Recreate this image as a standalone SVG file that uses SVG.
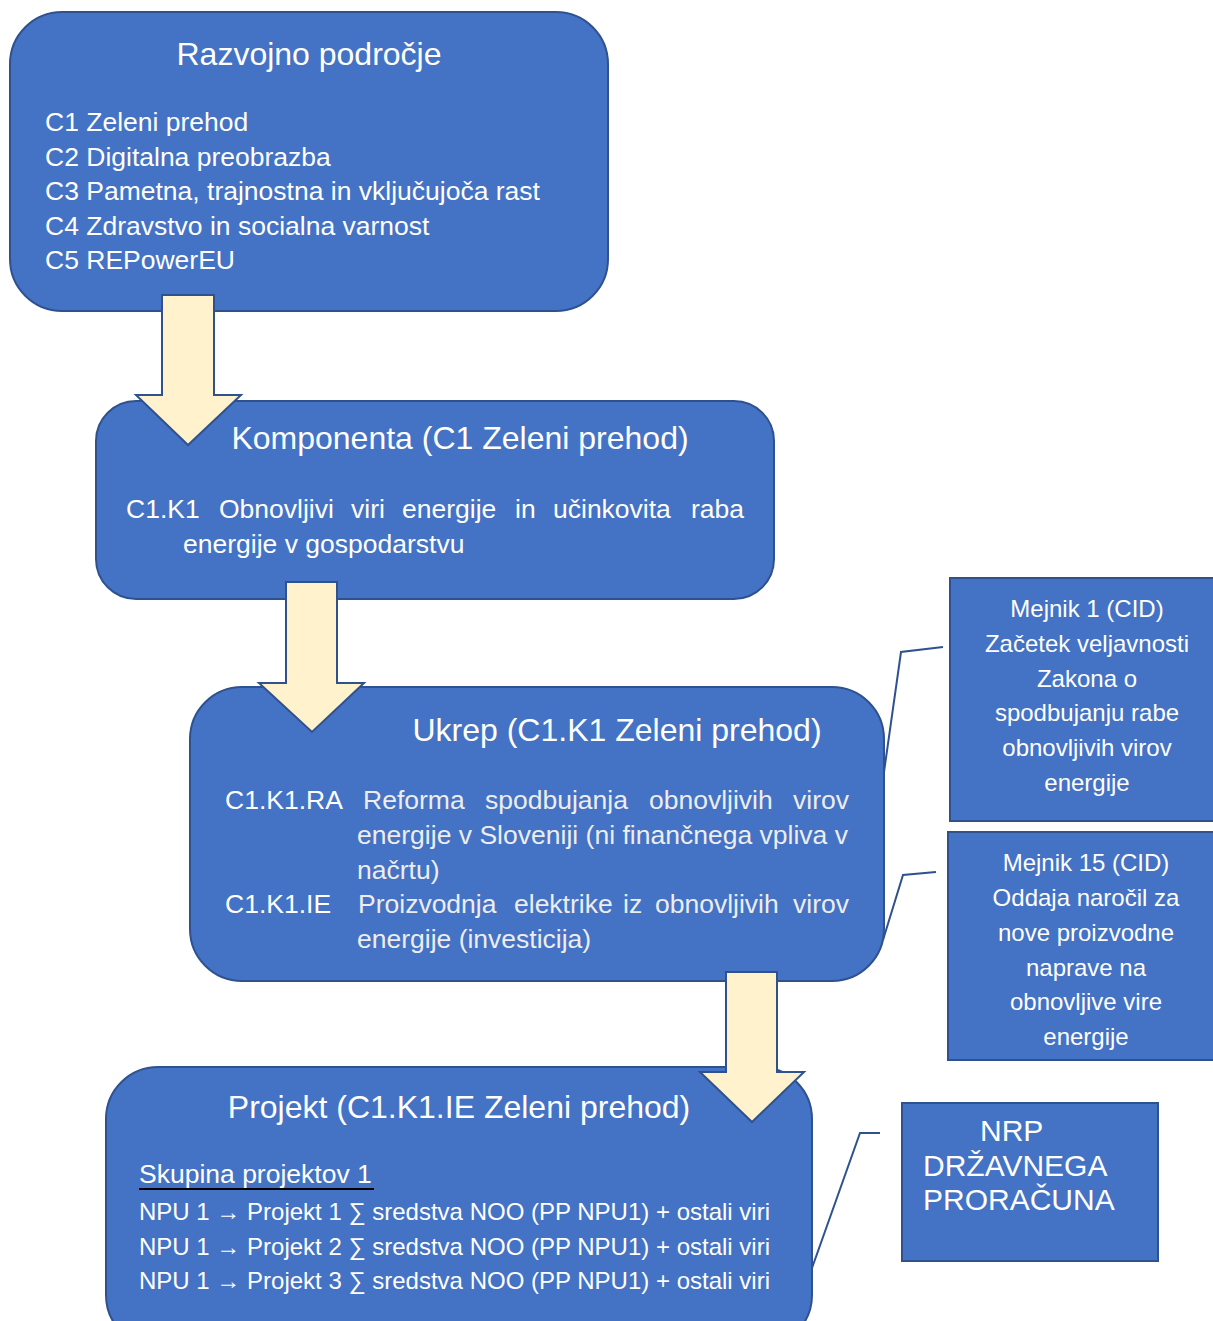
<svg xmlns="http://www.w3.org/2000/svg" width="1213" height="1321" viewBox="0 0 1213 1321">
<style>
.box{fill:#4472C4;stroke:#2F528F;stroke-width:2}
.arr{fill:#FFF2CC;stroke:#2F528F;stroke-width:2}
.ln{fill:none;stroke:#2F528F;stroke-width:2}
text{font-family:"Liberation Sans",Arial,sans-serif;fill:#FFFFFF}
.t{font-size:32px;text-anchor:middle}
.b{font-size:26.5px}
.g{fill:#EDEDED}
.m{font-size:24px;text-anchor:middle}
.n{font-size:24px}
.r{font-size:30px}
</style>
<rect width="1213" height="1321" fill="#FFFFFF"/>
<g id="connectors">
<polyline class="ln" points="943,647 901,652 884,772"/>
<polyline class="ln" points="936,872 903,875 883,940"/>
<polyline class="ln" points="880,1133 860,1133 812,1268"/>
</g>
<g id="razvojno">
<rect class="box" x="10" y="12" width="598" height="299" rx="52"/>
<text class="t" x="309" y="65">Razvojno področje</text>
<text class="b" x="45" y="131">C1 Zeleni prehod</text>
<text class="b" x="45" y="166">C2 Digitalna preobrazba</text>
<text class="b" x="45" y="200">C3 Pametna, trajnostna in vključujoča rast</text>
<text class="b" x="45" y="235">C4 Zdravstvo in socialna varnost</text>
<text class="b" x="45" y="269">C5 REPowerEU</text>
</g>
<g id="komponenta">
<rect class="box" x="96" y="401" width="678" height="198" rx="40"/>
<text class="t" x="460" y="449">Komponenta (C1 Zeleni prehod)</text>
<text class="b" y="518"><tspan x="126">C1.K1</tspan> <tspan x="219">Obnovljivi</tspan> <tspan x="351">viri</tspan> <tspan x="402">energije</tspan> <tspan x="515">in</tspan> <tspan x="553">učinkovita</tspan> <tspan x="691">raba</tspan></text>
<text class="b" x="183" y="553">energije v gospodarstvu</text>
</g>
<g id="ukrep">
<rect class="box" x="190" y="687" width="694" height="294" rx="52"/>
<text class="t" x="617" y="741">Ukrep (C1.K1 Zeleni prehod)</text>
<text class="b" x="225" y="809">C1.K1.RA</text>
<text class="b g" y="809"><tspan x="363">Reforma</tspan> <tspan x="485">spodbujanja</tspan> <tspan x="649">obnovljivih</tspan> <tspan x="793">virov</tspan></text>
<text class="b g" x="357" y="844" textLength="491" lengthAdjust="spacing">energije v Sloveniji (ni finančnega vpliva v</text>
<text class="b g" x="357" y="879">načrtu)</text>
<text class="b" x="225" y="913">C1.K1.IE</text>
<text class="b g" y="913"><tspan x="358">Proizvodnja</tspan> <tspan x="514">elektrike</tspan> <tspan x="623">iz</tspan> <tspan x="655">obnovljivih</tspan> <tspan x="793">virov</tspan></text>
<text class="b g" x="357" y="948">energije (investicija)</text>
</g>
<g id="projekt">
<rect class="box" x="106" y="1067" width="706" height="280" rx="52"/>
<text class="t" x="459" y="1118">Projekt (C1.K1.IE Zeleni prehod)</text>
<text class="b" x="139" y="1183">Skupina projektov 1</text>
<line x1="139" y1="1189" x2="374" y2="1189" stroke="#000000" stroke-width="2"/>
<text class="n" x="139" y="1220" textLength="631" lengthAdjust="spacingAndGlyphs">NPU 1 → Projekt 1 ∑ sredstva NOO (PP NPU1) + ostali viri</text>
<text class="n" x="139" y="1255" textLength="631" lengthAdjust="spacingAndGlyphs">NPU 1 → Projekt 2 ∑ sredstva NOO (PP NPU1) + ostali viri</text>
<text class="n" x="139" y="1289" textLength="631" lengthAdjust="spacingAndGlyphs">NPU 1 → Projekt 3 ∑ sredstva NOO (PP NPU1) + ostali viri</text>
</g>
<g id="arrows">
<polygon class="arr" points="162,295 214,295 214,395 241,395 188,445 136,395 162,395"/>
<polygon class="arr" points="286,582 337,582 337,683 364,683 312,732 259,683 286,683"/>
<polygon class="arr" points="726,972 777,972 777,1072 804,1072 752,1122 700,1072 726,1072"/>
</g>
<g id="mejnik1">
<rect class="box" x="950" y="578" width="275" height="243"/>
<text class="m" x="1087" y="617">Mejnik 1 (CID)</text>
<text class="m" x="1087" y="652">Začetek veljavnosti</text>
<text class="m" x="1087" y="687">Zakona o</text>
<text class="m" x="1087" y="721">spodbujanju rabe</text>
<text class="m" x="1087" y="756">obnovljivih virov</text>
<text class="m" x="1087" y="791">energije</text>
</g>
<g id="mejnik15">
<rect class="box" x="948" y="832" width="277" height="228"/>
<text class="m" x="1086" y="871">Mejnik 15 (CID)</text>
<text class="m" x="1086" y="906">Oddaja naročil za</text>
<text class="m" x="1086" y="941">nove proizvodne</text>
<text class="m" x="1086" y="976">naprave na</text>
<text class="m" x="1086" y="1010">obnovljive vire</text>
<text class="m" x="1086" y="1045">energije</text>
</g>
<g id="nrp">
<rect class="box" x="902" y="1103" width="256" height="158"/>
<text class="r" x="980" y="1141">NRP</text>
<text class="r" x="923" y="1176">DRŽAVNEGA</text>
<text class="r" x="923" y="1210">PRORAČUNA</text>
</g>
</svg>
